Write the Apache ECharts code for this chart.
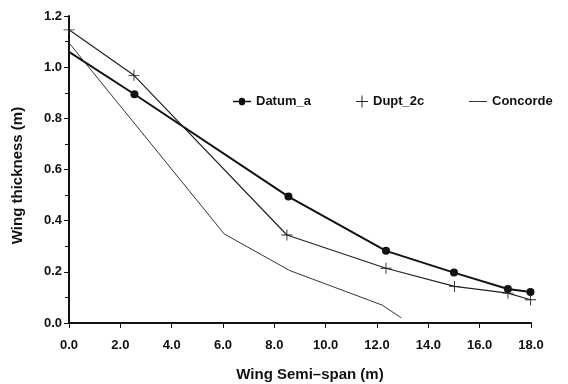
<!DOCTYPE html>
<html>
<head>
<meta charset="utf-8">
<script src="https://cdn.jsdelivr.net/npm/echarts@6/dist/echarts.min.js"></script>
<style>
  html, body { margin: 0; padding: 0; background: #fff; }
  #chart { width: 568px; height: 384px; }
</style>
</head>
<body>
<div id="chart"></div>
<script>
  // values
  var datumX = [0, 2.55, 8.55, 12.35, 15.0, 17.1, 17.98];
  var datumY = [1.06, 0.894, 0.494, 0.282, 0.197, 0.133, 0.121];
  var duptX = [0, 2.53, 8.49, 12.35, 15.02, 17.1, 17.98];
  var duptY = [1.146, 0.968, 0.344, 0.214, 0.143, 0.117, 0.091];
  var concordeX = [0, 6.05, 8.6, 12.2, 12.95];
  var concordeY = [1.095, 0.348, 0.205, 0.07, 0.02];

  var plusPath = 'path://M-0.08,-1H0.08V-0.08H1V0.08H0.08V1H-0.08V0.08H-1V-0.08H-0.08Z';
  var dotLinePath = 'path://M-1,-0.08H-0.35A0.35,0.35 0 0 1 0.35,-0.08H1V0.08H0.35A0.35,0.35 0 0 1 -0.35,0.08H-1Z';
  var font = '"Liberation Sans", Arial, sans-serif';

  function pairs(xs, ys) {
    var out = [];
    for (var i = 0; i < xs.length; i++) out.push([xs[i], ys[i]]);
    return out;
  }

  var datumData = pairs(datumX, datumY);
  datumData[0] = { value: datumData[0], symbol: 'none' };

  var myChart = echarts.init(document.getElementById('chart'));

  var legendText = { fontFamily: font, fontWeight: 'bold', fontSize: 13, color: '#111' };

  myChart.setOption({
    animation: false,
    grid: { left: 69, right: 37, top: 16, bottom: 61, containLabel: false, outerBoundsMode: 'none' },
    legend: [
      { data: [{ name: 'Datum_a', icon: dotLinePath }], left: 228, top: 90, itemWidth: 18, itemHeight: 8, itemGap: 8, textStyle: legendText },
      { data: [{ name: 'Dupt_2c', icon: plusPath }], left: 351, top: 90, itemWidth: 12, itemHeight: 12, textStyle: legendText },
      { data: [{ name: 'Concorde', icon: 'rect' }], left: 464, top: 90, itemWidth: 18, itemHeight: 1, itemGap: 8, textStyle: legendText }
    ],
    xAxis: {
      type: 'value',
      min: 0, max: 18, interval: 2,
      name: 'Wing Semi\u2013span (m)',
      nameLocation: 'middle',
      nameGap: 44,
      nameTextStyle: { fontFamily: font, fontWeight: 'bold', fontSize: 15, color: '#111', padding: [0, 0, 0, 20] },
      axisLine: { show: true, onZero: false, lineStyle: { color: '#111', width: 2 } },
      axisTick: { show: true, length: 5, lineStyle: { color: '#111', width: 1 } },
      axisLabel: { margin: 16, fontFamily: font, fontWeight: 'bold', fontSize: 13, color: '#111',
        formatter: function (v) { return v.toFixed(1); } },
      splitLine: { show: false }
    },
    yAxis: {
      type: 'value',
      min: 0, max: 1.2, interval: 0.2,
      name: 'Wing thickness (m)',
      nameLocation: 'middle',
      nameGap: 44,
      nameTextStyle: { fontFamily: font, fontWeight: 'bold', fontSize: 15, color: '#111', padding: [0, 12, 0, 0] },
      axisLine: { show: true, lineStyle: { color: '#111', width: 2 } },
      axisTick: { show: true, length: 5, lineStyle: { color: '#111', width: 1 } },
      minorTick: { show: true, splitNumber: 2, length: 4, lineStyle: { color: '#111', width: 1 } },
      axisLabel: { margin: 7, fontFamily: font, fontWeight: 'bold', fontSize: 13, color: '#111',
        formatter: function (v) { return v.toFixed(1); } },
      splitLine: { show: false }
    },
    series: [
      {
        name: 'Datum_a',
        type: 'line',
        data: datumData,
        symbol: 'circle',
        symbolSize: 8,
        color: '#111',
        lineStyle: { color: '#111', width: 2 },
        itemStyle: { color: '#111' }
      },
      {
        name: 'Dupt_2c',
        type: 'line',
        data: pairs(duptX, duptY),
        symbol: plusPath,
        symbolSize: 11,
        color: '#222',
        lineStyle: { color: '#222', width: 1.2 },
        itemStyle: { color: '#222' }
      },
      {
        name: 'Concorde',
        type: 'line',
        data: pairs(concordeX, concordeY),
        symbol: 'none',
        color: '#333',
        lineStyle: { color: '#333', width: 1 },
        itemStyle: { color: '#333' }
      }
    ]
  });
</script>
</body>
</html>
